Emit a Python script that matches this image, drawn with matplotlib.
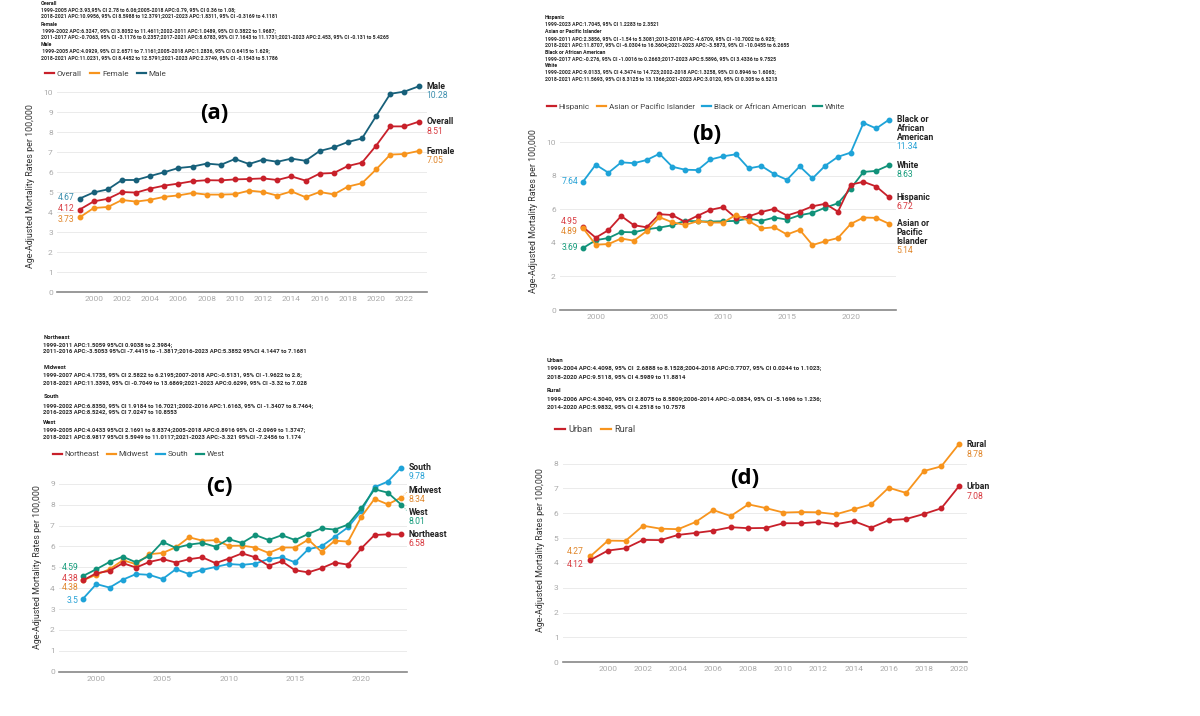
import matplotlib
matplotlib.use('Agg')
import matplotlib.pyplot as plt
from matplotlib.lines import Line2D

plt.rcParams['font.family'] = ['Roboto', 'DejaVu Sans']

W, H = 1200, 716

RED = '#c8202a'
ORANGE = '#f7941d'
TEAL = '#17607a'
BLUE = '#1ea3d8'
GREEN = '#11927a'

# ---- (a) sex ----
years_a = list(range(1999, 2024))
overall_a = [4.12, 4.53, 4.66, 5.00, 4.97, 5.17, 5.32, 5.42, 5.54, 5.59, 5.58, 5.63, 5.65, 5.68, 5.60, 5.78,
             5.57, 5.92, 5.95, 6.30, 6.47, 7.32, 8.28, 8.28, 8.51]
female_a = [3.73, 4.20, 4.25, 4.60, 4.52, 4.61, 4.76, 4.83, 4.95, 4.87, 4.87, 4.89, 5.07, 5.00, 4.82, 5.03,
            4.74, 5.00, 4.88, 5.27, 5.44, 6.13, 6.87, 6.90, 7.05]
male_a = [4.67, 4.98, 5.13, 5.60, 5.60, 5.80, 5.99, 6.20, 6.27, 6.42, 6.36, 6.65, 6.40, 6.62, 6.51, 6.67,
          6.56, 7.05, 7.23, 7.50, 7.68, 8.80, 9.91, 10.02, 10.28]

# ---- (b) race ----
years_b = list(range(1999, 2024))
hispanic_b = [4.95, 4.31, 4.76, 5.60, 5.05, 4.93, 5.71, 5.66, 5.25, 5.62, 5.97, 6.13, 5.48, 5.58, 5.84, 6.03,
              5.63, 5.87, 6.18, 6.33, 5.86, 7.47, 7.64, 7.36, 6.72]
asian_b = [4.89, 3.89, 3.93, 4.26, 4.13, 4.71, 5.53, 5.23, 5.07, 5.29, 5.21, 5.21, 5.67, 5.31, 4.86, 4.93,
           4.50, 4.78, 3.87, 4.10, 4.29, 5.13, 5.51, 5.49, 5.14]
black_b = [7.64, 8.66, 8.18, 8.80, 8.75, 8.94, 9.31, 8.54, 8.36, 8.34, 8.97, 9.16, 9.28, 8.44, 8.58, 8.10,
           7.76, 8.56, 7.84, 8.60, 9.13, 9.38, 11.15, 10.82, 11.34]
white_b = [3.69, 4.16, 4.29, 4.65, 4.63, 4.81, 4.91, 5.05, 5.31, 5.29, 5.27, 5.29, 5.31, 5.45, 5.31, 5.51,
           5.39, 5.65, 5.79, 6.10, 6.36, 7.24, 8.23, 8.29, 8.63]

# ---- (c) region ----
years_c = list(range(1999, 2024))
northeast_c = [4.38, 4.72, 4.83, 5.20, 4.99, 5.26, 5.40, 5.23, 5.39, 5.48, 5.20, 5.42, 5.67, 5.48, 5.08, 5.29,
               4.86, 4.76, 4.96, 5.23, 5.13, 5.91, 6.55, 6.58, 6.58]
midwest_c = [4.38, 4.65, 4.91, 5.34, 5.15, 5.63, 5.69, 5.96, 6.44, 6.28, 6.30, 6.03, 6.04, 5.95, 5.69, 5.95,
             5.95, 6.33, 5.74, 6.28, 6.23, 7.42, 8.28, 8.02, 8.34]
south_c = [3.50, 4.20, 4.03, 4.41, 4.68, 4.64, 4.44, 4.91, 4.68, 4.88, 5.02, 5.16, 5.12, 5.18, 5.40, 5.48,
           5.24, 5.87, 6.01, 6.46, 6.92, 7.70, 8.84, 9.11, 9.78]
west_c = [4.59, 4.91, 5.26, 5.51, 5.24, 5.55, 6.22, 5.93, 6.09, 6.17, 5.99, 6.35, 6.17, 6.55, 6.31, 6.54,
          6.31, 6.60, 6.87, 6.81, 7.05, 7.83, 8.74, 8.58, 8.01]

# ---- (d) urbanization ----
years_d = list(range(1999, 2021))
urban_d = [4.12, 4.50, 4.59, 4.93, 4.92, 5.13, 5.21, 5.30, 5.44, 5.40, 5.41, 5.60, 5.60, 5.65, 5.56, 5.69,
           5.42, 5.72, 5.77, 5.97, 6.20, 7.08]
rural_d = [4.27, 4.90, 4.89, 5.50, 5.38, 5.36, 5.65, 6.13, 5.89, 6.36, 6.21, 6.03, 6.05, 6.04, 5.96, 6.16,
           6.36, 7.03, 6.82, 7.70, 7.89, 8.78]

YLABEL = 'Age-Adjusted Mortality Rates per 100,000'

# APC text blocks: (text, y pixel, heading?)
notes_a = [
    ('Overall', 3.3, True),
    ('1999-2005 APC:3.93,95% CI 2.78 to 6.06;2005-2018 APC:0.79, 95% CI 0.36 to 1.08;', 9.3, False),
    ('2018-2021 APC:10.9956, 95% CI 8.5988 to 12.3791;2021-2023 APC:1.8311, 95% CI -0.3169 to 4.1181', 15.3, False),
    ('Female', 24.0, True),
    (' 1999-2002 APC:6.3247, 95% CI 3.8052 to 11.4611;2002-2011 APC:1.0489, 95% CI 0.3822 to 1.9687;', 30.3, False),
    ('2011-2017 APC:-0.7063, 95% CI -3.1176 to 0.2357;2017-2021 APC:8.6783, 95% CI 7.1643 to 11.1731;'
     '2021-2023 APC:2.453, 95% CI -0.131 to 5.4265', 36.3, False),
    ('Male', 44.7, True),
    (' 1999-2005 APC:4.0929, 95% CI 2.6571 to 7.1161;2005-2018 APC:1.2836, 95% CI 0.6415 to 1.629;', 51.0, False),
    ('2018-2021 APC:11.0231, 95% CI 8.4452 to 12.5791;2021-2023 APC:2.3749, 95% CI -0.1543 to 5.1786', 57.3, False),
]
notes_b = [
    ('Hispanic', 17.3, True),
    ('1999-2023 APC:1.7045, 95% CI 1.2283 to 2.3521', 24.0, False),
    ('Asian or Pacific Islander', 31.7, True),
    ('1999-2011 APC:2.3856, 95% CI -1.54 to 5.3081;2013-2018 APC:-4.6709, 95% CI -10.7002 to 6.925;', 38.3, False),
    ('2018-2021 APC:11.8707, 95% CI -6.0304 to 16.3604;2021-2023 APC:-3.5873, 95% CI -10.0455 to 6.2655', 45.0, False),
    ('Black or African American', 52.0, True),
    ('1999-2017 APC:-0.276, 95% CI -1.0016 to 0.2663;2017-2023 APC:5.5896, 95% CI 3.4336 to 9.7525', 59.0, False),
    ('White', 65.7, True),
    ('1999-2002 APC:9.0133, 95% CI 4.3474 to 14.723;2002-2018 APC:1.3258, 95% CI 0.8946 to 1.6063;', 72.0, False),
    ('2018-2021 APC:11.5693, 95% CI 8.3125 to 13.1366;2021-2023 APC:3.0120, 95% CI 0.305 to 6.5213', 79.0, False),
]
notes_c = [
    ('Northeast', 337.7, True),
    ('1999-2011 APC:1.5059 95%CI 0.9038 to 2.3984;', 344.3, False),
    ('2011-2016 APC:-3.5053 95%CI -7.4415 to -1.3817;2016-2023 APC:5.3852 95%CI 4.1447 to 7.1681', 351.0, False),
    ('Midwest', 367.3, True),
    ('1999-2007 APC:4.1735, 95% CI 2.5822 to 6.2195;2007-2018 APC:-0.5131, 95% CI -1.9622 to 2.8;', 374.3, False),
    ('2018-2021 APC:11.3393, 95% CI -0.7049 to 13.6869;2021-2023 APC:0.6299, 95% CI -3.32 to 7.028', 382.7, False),
    ('South', 396.7, True),
    ('1999-2002 APC:6.8350, 95% CI 1.9184 to 16.7021;2002-2016 APC:1.6163, 95% CI -1.3407 to 8.7464;', 405.7, False),
    ('2016-2023 APC:8.5242, 95% CI 7.0247 to 10.8553', 412.3, False),
    ('West', 422.3, True),
    ('1999-2005 APC:4.0433 95%CI 2.1691 to 8.8374;2005-2018 APC:0.8916 95% CI -2.0969 to 1.3747;', 429.7, False),
    ('2018-2021 APC:8.9817 95%CI 5.5949 to 11.0117;2021-2023 APC:-3.321 95%CI -7.2456 to 1.174', 436.7, False),
]
notes_d = [
    ('Urban', 360.7, True),
    ('1999-2004 APC:4.4098, 95% CI  2.6888 to 8.1528;2004-2018 APC:0.7707, 95% CI 0.0244 to 1.1023;', 367.3, False),
    ('2018-2020 APC:9.5118, 95% CI 4.5989 to 11.8814', 376.7, False),
    ('Rural', 390.7, True),
    ('1999-2006 APC:4.3040, 95% CI 2.8075 to 8.5809;2006-2014 APC:-0.0834, 95% CI -5.1696 to 1.236;', 398.3, False),
    ('2014-2020 APC:5.9832, 95% CI 4.2518 to 10.7578', 406.7, False),
]


def px_axes(fig, left, right, top, bottom):
    """Axes placed by pixel edges (y measured from the top)."""
    return fig.add_axes([left / W, 1 - bottom / H, (right - left) / W, (bottom - top) / H])


def draw_notes(fig, notes, x, size):
    for text, y, heading in notes:
        fig.text(x / W, 1 - y / H, text, fontsize=size, fontweight='bold',
                 color='#1e1e1e' if heading else '#2a2a2a', ha='left', va='center')


def draw_legend(fig, ax, names, colors, x, y, size, spacing):
    handles = [Line2D([0], [0], color=c, lw=1.6) for c in colors]
    ax.legend(handles, names, loc='center left', bbox_to_anchor=(x / W, 1 - y / H),
              bbox_transform=fig.transFigure, ncol=len(names), frameon=False,
              handlelength=1.1, handletextpad=0.35, columnspacing=spacing,
              fontsize=size, borderpad=0, borderaxespad=0, labelcolor='#444444')


def style_axes(ax, xlim, ylim, yticks, xticks, ylabel_pad):
    ax.set_xlim(*xlim)
    ax.set_ylim(*ylim)
    ax.set_yticks(yticks)
    ax.set_xticks(xticks)
    ax.tick_params(length=0, labelsize=6, labelcolor='#aaaaaa', pad=3)
    for s in ['top', 'right', 'left']:
        ax.spines[s].set_visible(False)
    ax.spines['bottom'].set_color('#888888')
    ax.spines['bottom'].set_linewidth(1.2)
    ax.grid(axis='y', color='#ebebeb', lw=0.7)
    ax.set_axisbelow(True)
    ax.set_ylabel(YLABEL, fontsize=6.4, color='#333333', labelpad=ylabel_pad)


def draw_series(ax, years, series, colors, val_colors, start_y, end_labels, start_off, line_pt):
    for vals, c, vc, sy, (name, ly) in zip(series, colors, val_colors, start_y, end_labels):
        ax.plot(years, vals, color=c, lw=1.3, marker='o', ms=3.2, zorder=3)
        ax.annotate(f'{vals[0]:g}', (years[0], sy), xytext=(start_off, 0), textcoords='offset points',
                    ha='right', va='center', fontsize=6.2, color=vc)
        # name: first line sits at the label level, further lines go down
        lines = name.split('\n')
        for i, part in enumerate(lines):
            ax.annotate(part, (years[-1], ly), xytext=(5.5, -line_pt * i), textcoords='offset points',
                        ha='left', va='center', fontsize=6.2, fontweight='bold', color='#222222',
                        annotation_clip=False)
        ax.annotate(f'{vals[-1]:g}', (years[-1], ly), xytext=(5.5, -line_pt * len(lines)),
                    textcoords='offset points', ha='left', va='center', fontsize=6.2, color=vc,
                    annotation_clip=False)


fig = plt.figure(figsize=(W / 100, H / 100), dpi=100)

# ---------- panel (a) ----------
ax = px_axes(fig, 57, 427, 80, 292)
style_axes(ax, (1997.4, 2023.6), (0, 10.6), range(0, 11), range(2000, 2023, 2), 6)
draw_series(ax, years_a, [male_a, overall_a, female_a], [TEAL, RED, ORANGE],
            ['#3d8fae', '#d83a40', '#e0862a'], [4.75, 4.17, 3.62],
            [('Male', 10.28), ('Overall', 8.51), ('Female', 7.05)], -3.6, 6.9)
draw_notes(fig, notes_a, 40.7, 3.67)
draw_legend(fig, ax, ['Overall', 'Female', 'Male'], [RED, ORANGE, TEAL], 45, 73.3, 5.9, 1.0)
ax.text(2008.5, 8.95, '(a)', fontsize=16, fontweight='bold', family='Open Sans', ha='center', va='center')

# ---------- panel (b) ----------
ax = px_axes(fig, 560, 896, 112, 310)
style_axes(ax, (1997.2, 2023.55), (0, 11.8), range(0, 11, 2), range(2000, 2021, 5), 6)
draw_series(ax, years_b, [black_b, white_b, hispanic_b, asian_b], [BLUE, GREEN, RED, ORANGE],
            ['#2aa3d6', '#169c7c', '#d83a40', '#e0862a'], [7.64, 3.74, 5.27, 4.67],
            [('Black or\nAfrican\nAmerican', 11.34), ('White', 8.63), ('Hispanic', 6.72),
             ('Asian or\nPacific\nIslander', 5.14)], -3.6, 6.4)
draw_notes(fig, notes_b, 545, 3.66)
draw_legend(fig, ax, ['Hispanic', 'Asian or Pacific Islander', 'Black or African American', 'White'],
            [RED, ORANGE, BLUE, GREEN], 547, 106.7, 5.8, 0.9)
ax.text(2008.7, 10.43, '(b)', fontsize=16, fontweight='bold', family='Open Sans', ha='center', va='center')

# ---------- panel (c) ----------
ax = px_axes(fig, 59, 407, 463, 671.7)
style_axes(ax, (1997.18, 2023.45), (0, 10.0), range(0, 10), range(2000, 2021, 5), 6)
draw_series(ax, years_c, [south_c, midwest_c, west_c, northeast_c], [BLUE, ORANGE, GREEN, RED],
            ['#2aa3d6', '#e0862a', '#169c7c', '#d83a40'], [3.41, 4.05, 5.01, 4.48],
            [('South', 9.78), ('Midwest', 8.68), ('West', 7.63), ('Northeast', 6.58)], -3.4, 6.5)
ax.plot([2023.1, 2023.45], [8.38, 8.62], color=ORANGE, lw=0.5, ls=':', clip_on=False)
ax.plot([2023.1, 2023.45], [7.95, 7.70], color=GREEN, lw=0.5, ls=':', clip_on=False)
draw_notes(fig, notes_c, 43.3, 4.28)
draw_legend(fig, ax, ['Northeast', 'Midwest', 'South', 'West'], [RED, ORANGE, BLUE, GREEN], 53, 454, 5.8, 0.9)
ax.text(2009.3, 8.86, '(c)', fontsize=16, fontweight='bold', family='Open Sans', ha='center', va='center')

# ---------- panel (d) ----------
ax = px_axes(fig, 562.7, 966.7, 438.8, 662.3)
style_axes(ax, (1997.42, 2020.45), (0, 9.0), range(0, 9), range(2000, 2021, 2), 6)
draw_series(ax, years_d, [rural_d, urban_d], [ORANGE, RED], ['#e0862a', '#d83a40'], [4.45, 3.92],
            [('Rural', 8.78), ('Urban', 7.07)], -4.6, 7.2)
draw_notes(fig, notes_d, 546.7, 4.4)
draw_legend(fig, ax, ['Urban', 'Rural'], [RED, ORANGE], 555, 430, 6.6, 0.9)
ax.text(2007.8, 7.42, '(d)', fontsize=16, fontweight='bold', family='Open Sans', ha='center', va='center')

plt.savefig('out.png', dpi=100)
plt.close()
